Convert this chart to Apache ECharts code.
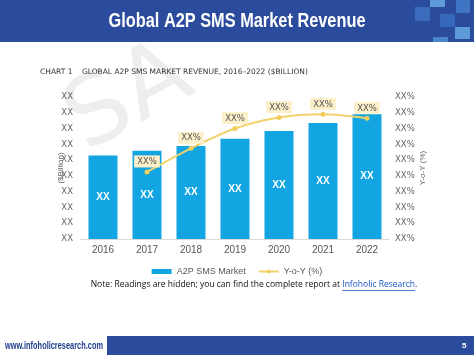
<!DOCTYPE html>
<html>
<head>
<meta charset="utf-8">
<script src="https://cdn.jsdelivr.net/npm/echarts@6/dist/echarts.min.js"></script>
<style>
  html, body { margin: 0; padding: 0; background: #fff; }
  #chart { width: 474px; height: 355px; }
</style>
</head>
<body>
<div id="chart"></div>
<script>
// chart data (readings are hidden in the source, so labels show XX)
const years = ['2016', '2017', '2018', '2019', '2020', '2021', '2022']
const marketValues = [5.3, 5.6, 5.9, 6.35, 6.85, 7.35, 7.9]
const yoyValues = [null, 4.25, 5.75, 7.0, 7.7, 7.9, 7.65]
const leftTickLabels = ['XX', 'XX', 'XX', 'XX', 'XX', 'XX', 'XX', 'XX', 'XX', 'XX']
const rightTickLabels = ['XX%', 'XX%', 'XX%', 'XX%', 'XX%', 'XX%', 'XX%', 'XX%', 'XX%', 'XX%']

const sans = '"Liberation Sans", sans-serif'
const noteFont = '"Open Sans", sans-serif'

function textWidth (str, font) {
  const ctx = document.createElement('canvas').getContext('2d')
  ctx.font = font
  return ctx.measureText(str).width
}

// condensed look: squeeze bold text to the width seen in the slide
const titleText = 'Global A2P SMS Market Revenue'
const titleFont = 'bold 21px ' + sans
const titleScale = 257 / textWidth(titleText, titleFont)
const siteText = 'www.infoholicresearch.com'
const siteFont = 'bold 11px ' + sans
const siteScale = 98 / textWidth(siteText, siteFont)

// note line, built piece by piece so the link can be underlined
const notePre = 'Note: Readings are hidden; you can find the complete report at '
const noteLink = 'Infoholic Research'
const noteSize = 8.5
const wPre = textWidth(notePre, noteSize + 'px ' + noteFont)
const wLink = textWidth(noteLink, noteSize + 'px ' + noteFont)
const wDot = textWidth('.', noteSize + 'px ' + noteFont)
const noteX = 254 - (wPre + wLink + wDot) / 2
const noteY = 285

const myChart = echarts.init(document.getElementById('chart'))
myChart.setOption({
  animation: false,
  backgroundColor: '#fff',
  graphic: [
    // header band
    { type: 'rect', shape: { x: 0, y: 0, width: 474, height: 42 }, style: { fill: '#2b4b9c' }, z: 0 },
    { type: 'rect', shape: { x: 430, y: 0, width: 15, height: 7 }, style: { fill: '#5f9ad9' } },
    { type: 'rect', shape: { x: 456, y: 0, width: 14, height: 13 }, style: { fill: '#3f74c4' } },
    { type: 'rect', shape: { x: 415, y: 7, width: 15, height: 14 }, style: { fill: '#3a6bbd' } },
    { type: 'rect', shape: { x: 440, y: 14, width: 15, height: 13 }, style: { fill: '#3568b8' } },
    { type: 'rect', shape: { x: 455, y: 27, width: 15, height: 12 }, style: { fill: '#5f9ad9' } },
    { type: 'rect', shape: { x: 433, y: 37, width: 15, height: 5 }, style: { fill: '#4a84cc' } },
    {
      type: 'text',
      x: 237,
      y: 21,
      scaleX: titleScale,
      style: {
        text: titleText,
        fill: '#fff',
        font: titleFont,
        textAlign: 'center',
        textVerticalAlign: 'middle'
      }
    },
    // watermark
    {
      type: 'text',
      x: 130,
      y: 100,
      rotation: 0.5,
      z: -1,
      style: {
        text: 'SA',
        fill: '#eeeeee',
        font: '95px "DejaVu Sans", sans-serif',
        textAlign: 'center',
        textVerticalAlign: 'middle'
      }
    },
    // chart caption
    {
      type: 'text',
      x: 40,
      y: 72,
      style: {
        text: 'CHART 1    GLOBAL A2P SMS MARKET REVENUE, 2016\u20132022 ($BILLION)',
        fill: '#333',
        font: '7.5px "DejaVu Sans", sans-serif',
        textVerticalAlign: 'middle'
      }
    },
    // note
    {
      type: 'text',
      x: noteX,
      y: noteY,
      style: { text: notePre, fill: '#111', font: noteSize + 'px ' + noteFont, textVerticalAlign: 'middle' }
    },
    {
      type: 'text',
      x: noteX + wPre,
      y: noteY,
      style: { text: noteLink, fill: '#1a55c8', font: noteSize + 'px ' + noteFont, textVerticalAlign: 'middle' }
    },
    {
      type: 'line',
      shape: { x1: noteX + wPre, y1: noteY + 5.5, x2: noteX + wPre + wLink, y2: noteY + 5.5 },
      style: { stroke: '#1a55c8', lineWidth: 0.8 }
    },
    {
      type: 'text',
      x: noteX + wPre + wLink,
      y: noteY,
      style: { text: '.', fill: '#111', font: noteSize + 'px ' + noteFont, textVerticalAlign: 'middle' }
    },
    // footer
    { type: 'rect', shape: { x: 107, y: 336, width: 367, height: 19 }, style: { fill: '#2b4b9c' } },
    {
      type: 'text',
      x: 5,
      y: 346,
      scaleX: siteScale,
      style: {
        text: siteText,
        fill: '#24408f',
        font: siteFont,
        textVerticalAlign: 'middle'
      }
    },
    {
      type: 'text',
      x: 462,
      y: 346,
      style: { text: '5', fill: '#fff', font: 'bold 8px ' + sans, textVerticalAlign: 'middle' }
    }
  ],
  legend: {
    top: 262,
    left: 'center',
    itemGap: 12,
    textStyle: { color: '#595959', fontSize: 9, fontFamily: sans },
    data: [
      { name: 'A2P SMS Market', icon: 'rect', itemStyle: { color: '#12a5e1' } },
      { name: 'Y-o-Y (%)' }
    ],
    itemWidth: 20,
    itemHeight: 5
  },
  grid: {
    left: 81,
    right: 85,
    top: 97,
    bottom: 116
  },
  xAxis: {
    type: 'category',
    data: years,
    axisTick: { show: false },
    axisLine: { lineStyle: { color: '#d9d9d9' } },
    axisLabel: {
      color: '#555',
      fontSize: 10,
      margin: 6,
      fontFamily: sans
    }
  },
  yAxis: [
    {
      type: 'value',
      min: 0,
      max: 9,
      interval: 1,
      name: '($Billion)',
      nameLocation: 'middle',
      nameRotate: 90,
      nameGap: 16,
      nameMoveOverlap: false,
      nameTextStyle: { color: '#666', fontSize: 8, fontFamily: sans },
      splitLine: { show: false },
      axisLine: { show: false },
      axisTick: { show: false },
      axisLabel: {
        color: '#666',
        fontSize: 8.5,
        margin: 8,
        fontFamily: '"DejaVu Sans", sans-serif',
        formatter: (v, i) => leftTickLabels[i]
      }
    },
    {
      type: 'value',
      min: 0,
      max: 9,
      interval: 1,
      position: 'right',
      name: 'Y-o-Y (%)',
      nameLocation: 'middle',
      nameRotate: 90,
      nameGap: 30,
      nameMoveOverlap: false,
      nameTextStyle: { color: '#666', fontSize: 8, fontFamily: sans },
      splitLine: { show: false },
      axisLine: { show: false },
      axisTick: { show: false },
      axisLabel: {
        color: '#666',
        fontSize: 8.5,
        margin: 6,
        fontFamily: '"DejaVu Sans", sans-serif',
        formatter: (v, i) => rightTickLabels[i]
      }
    }
  ],
  series: [
    {
      name: 'A2P SMS Market',
      type: 'bar',
      barWidth: 29,
      data: marketValues,
      itemStyle: { color: '#12a5e1' },
      label: {
        show: true,
        position: 'inside',
        formatter: 'XX',
        color: '#fff',
        fontSize: 10,
        fontWeight: 'bold',
        fontFamily: sans
      }
    },
    {
      name: 'Y-o-Y (%)',
      type: 'line',
      yAxisIndex: 1,
      data: yoyValues,
      smooth: 0.3,
      symbol: 'circle',
      symbolSize: 5,
      lineStyle: { color: '#f2d36b', width: 2 },
      itemStyle: { color: '#f0cf5e' },
      label: {
        show: true,
        position: 'top',
        distance: 2,
        formatter: 'XX%',
        color: '#555',
        fontSize: 8.5,
        fontFamily: '"DejaVu Sans", sans-serif',
        backgroundColor: '#fbf0c9',
        padding: [2, 3, 1, 3]
      }
    }
  ]
})
</script>
</body>
</html>
